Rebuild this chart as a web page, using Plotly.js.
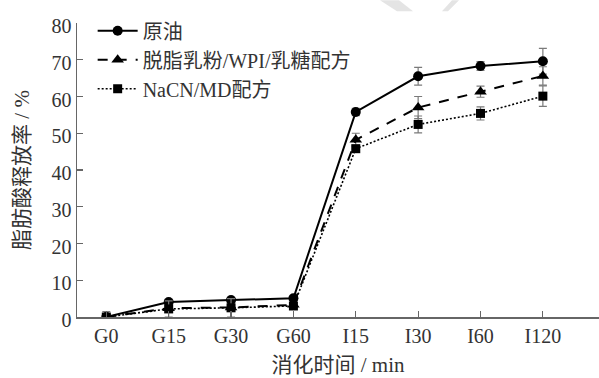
<!DOCTYPE html>
<html>
<head>
<meta charset="utf-8">
<script src="https://cdn.plot.ly/plotly-3.0.1.min.js"></script>
<style>
  html, body { margin: 0; padding: 0; background: #fff; }
  #chart { width: 599px; height: 378px; }
</style>
</head>
<body>
<div id="chart"></div>
<script>
// Digestion time points (gastric G, intestinal I)
const stages = ["G0", "G15", "G30", "G60", "I15", "I30", "I60", "I120"];

// Free fatty acid release (%) for each sample
const oilName = "原油";
const oilValues = [0, 4.1, 4.6, 5.1, 55.8, 65.5, 68.3, 69.6];
const oilErrors = [0.4, 0.6, 0.6, 0.6, 1.0, 2.4, 1.2, 3.5];

const milkName = "脱脂乳粉/WPI/乳糖配方";
const milkValues = [0, 2.4, 2.6, 3.3, 48.2, 57.0, 61.3, 65.6];
const milkErrors = [1.5, 0.6, 0.5, 0.6, 1.8, 3.0, 1.5, 2.5];

const nacnName = "NaCN/MD配方";
const nacnValues = [0, 2.2, 2.5, 3.0, 45.8, 52.4, 55.4, 60.1];
const nacnErrors = [0.4, 2.2, 2.5, 0.5, 1.0, 2.3, 1.8, 2.8];

const yTicks = [0, 10, 20, 30, 40, 50, 60, 70, 80];

const serif = '"Liberation Serif", "Times New Roman", "Noto Sans CJK SC", serif';
const errStyle = (arr) => ({
  type: "data", array: arr, visible: true,
  color: "#7a7a7a", thickness: 1.2, width: 4
});

const traces = [
  {
    name: oilName, x: stages, y: oilValues, type: "scatter", mode: "lines+markers",
    line: { color: "#000", width: 2, dash: "solid" },
    marker: { symbol: "circle", size: 10, color: "#000" },
    error_y: errStyle(oilErrors)
  },
  {
    name: milkName, x: stages, y: milkValues, type: "scatter", mode: "lines+markers",
    line: { color: "#000", width: 2, dash: "10px,9px" },
    marker: { symbol: "triangle-up", size: 11, color: "#000" },
    error_y: errStyle(milkErrors)
  },
  {
    name: nacnName, x: stages, y: nacnValues, type: "scatter", mode: "lines+markers",
    line: { color: "#000", width: 1.6, dash: "2px,2px" },
    marker: { symbol: "square", size: 9, color: "#000" },
    error_y: errStyle(nacnErrors)
  }
];

// plot area geometry, used to place the faint background mark in paper units
const L = 77, T = 22.7, W = 522, H = 294.1;
const px = (x) => ((x - L) / W).toFixed(4);
const py = (y) => ((T + H - y) / H).toFixed(4);
const quad = (pts) => "M" + pts.map(p => px(p[0]) + "," + py(p[1])).join(" L") + " Z";

const layout = {
  width: 599, height: 378,
  margin: { l: L, r: 0, t: T, b: 378 - T - H },
  paper_bgcolor: "#fff", plot_bgcolor: "#fff",
  showlegend: true,
  legend: {
    x: 0.03, y: 1.04, xanchor: "left", yanchor: "top",
    bgcolor: "rgba(0,0,0,0)",
    font: { family: serif, size: 20, color: "#333" },
    tracegroupgap: 0, itemwidth: 40
  },
  xaxis: {
    type: "category", range: [-0.47, 7.9],
    showline: true, linecolor: "#666", linewidth: 1.5,
    ticks: "inside", ticklen: 6, tickcolor: "#666", tickwidth: 1.2,
    showgrid: false, zeroline: false,
    tickfont: { family: serif, size: 20, color: "#333" },
    title: { text: "消化时间 / min", font: { family: serif, size: 21, color: "#333" }, standoff: 12 }
  },
  yaxis: {
    range: [0, 80], tickvals: yTicks,
    showline: true, linecolor: "#666", linewidth: 1.5,
    ticks: "inside", ticklen: 6, tickcolor: "#666", tickwidth: 1.2,
    showgrid: false, zeroline: false,
    ticklabelshift: 3,
    tickfont: { family: serif, size: 20, color: "#333" },
    title: { text: "脂肪酸释放率 / %", font: { family: serif, size: 21, color: "#333" }, standoff: 16 }
  },
  shapes: [
    { type: "path", xref: "paper", yref: "paper", layer: "below", line: { width: 0 }, fillcolor: "#e4e4e4",
      path: quad([[380, 0], [399, 0], [413, 11], [397, 11]]) },
    { type: "path", xref: "paper", yref: "paper", layer: "below", line: { width: 0 }, fillcolor: "#e4e4e4",
      path: quad([[452, 0], [459, 0], [448, 11], [442, 11]]) }
  ]
};

Plotly.newPlot("chart", traces, layout, { displayModeBar: false, staticPlot: true });
</script>
</body>
</html>
